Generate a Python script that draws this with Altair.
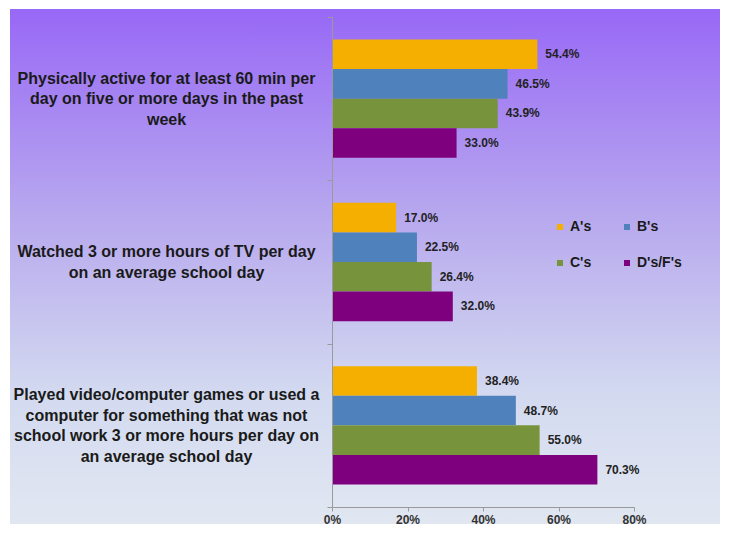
import altair as alt
import pandas as pd

questions = [
    "Physically active for at least 60 min per|day on five or more days in the past|week",
    "Watched 3 or more hours of TV per day|on an average school day",
    "Played video/computer games or used a|computer for something that was not|school work 3 or more hours per day on|an average school day",
]
grades = ["A's", "B's", "C's", "D's/F's"]
values_a = [54.4, 17.0, 38.4]
values_b = [46.5, 22.5, 48.7]
values_c = [43.9, 26.4, 55.0]
values_d = [33.0, 32.0, 70.3]
colors = ["#F4AF00", "#4F81BD", "#77933C", "#7F007F"]
x_ticks = [0, 20, 40, 60, 80]

series = [values_a, values_b, values_c, values_d]
rows = []
for qi, q in enumerate(questions):
    for gi, g in enumerate(grades):
        rows.append({"question": q, "grade": g, "value": series[gi][qi]})
df = pd.DataFrame(rows)

W, H = 302, 490
PAD_L, PAD_T, PAD_R, PAD_B = 324, 9, 87, 19
LINE_H = 20.5

bg = alt.Chart(pd.DataFrame({"a": [0]})).mark_rect(
    color=alt.LinearGradient(
        gradient="linear",
        stops=[
            alt.GradientStop(color="#9868F6", offset=0),
            alt.GradientStop(color="#B7A8EE", offset=0.4),
            alt.GradientStop(color="#D3DAF0", offset=0.75),
            alt.GradientStop(color="#E1E7F1", offset=1),
        ],
        x1=0, x2=0, y1=0, y2=1,
    )
).encode(
    x=alt.value(-PAD_L + 2), x2=alt.value(W + PAD_R - 1),
    y=alt.value(-PAD_T + 1), y2=alt.value(H + PAD_B - 2),
)

# shift multi-line labels so each block is centred on its band
offset_cond = {
    "condition": [
        {"test": "length(split(datum.value, '|')) == 3", "value": -LINE_H},
        {"test": "length(split(datum.value, '|')) == 4", "value": -1.5 * LINE_H},
    ],
    "value": -0.5 * LINE_H,
}

y_enc = alt.Y(
    "question:N",
    sort=questions,
    scale=alt.Scale(paddingInner=0, paddingOuter=0),
    axis=alt.Axis(
        title=None,
        zindex=1,
        labelExpr="split(datum.label, '|')",
        labelAlign="center",
        labelBaseline="middle",
        labelPadding=161,
        labelOffset=offset_cond,
        tickSize=5,
        tickBand="extent",
        labelFont="Liberation Sans",
        labelFontSize=16,
        labelFontWeight="bold",
        labelColor="#1a1a1a",
        labelLineHeight=LINE_H,
        labelLimit=500,
        domainColor="#9a9a9a",
        tickColor="#9a9a9a",
    ),
)
yoff = alt.YOffset("grade:N", sort=grades, scale=alt.Scale(paddingInner=0, paddingOuter=0.76))
x_enc = alt.X(
    "value:Q",
    scale=alt.Scale(domain=[0, 80]),
    axis=alt.Axis(
        title=None,
        zindex=1,
        values=x_ticks,
        labelExpr="datum.value + '%'",
        labelFlush=False,
        labelAlign="center",
        grid=False,
        tickSize=4,
        labelPadding=3,
        labelFont="Liberation Sans",
        labelFontSize=12,
        labelFontWeight="bold",
        labelColor="#333333",
        domainColor="#9a9a9a",
        tickColor="#9a9a9a",
    ),
)

bars = alt.Chart(df).mark_bar().encode(
    x=x_enc,
    y=y_enc,
    yOffset=yoff,
    color=alt.Color(
        "grade:N",
        sort=grades,
        scale=alt.Scale(domain=grades, range=colors),
        legend=alt.Legend(
            title=None,
            orient="none",
            direction="horizontal",
            legendX=221,
            legendY=203,
            columns=2,
            columnPadding=28,
            rowPadding=22,
            symbolType="square",
            symbolSize=36,
            symbolStrokeWidth=0,
            labelOffset=3,
            labelFont="Liberation Sans",
            labelFontSize=14,
            labelFontWeight="bold",
            labelColor="#1a1a1a",
            padding=0,
        ),
    ),
)

labels = alt.Chart(df).transform_calculate(
    txt="format(datum.value, '.1f') + '%'"
).mark_text(
    align="left", baseline="middle", dx=8,
    font="Liberation Sans", fontSize=12, fontWeight="bold", color="#222222",
).encode(
    x=alt.X("value:Q"),
    y=alt.Y("question:N", sort=questions),
    yOffset=alt.YOffset("grade:N", sort=grades),
    text="txt:N",
)

chart = alt.layer(bg, bars, labels).properties(
    width=W, height=H,
    autosize=alt.AutoSizeParams(type="none"),
    padding={"left": PAD_L, "top": PAD_T, "right": PAD_R, "bottom": PAD_B},
    background="white",
).configure_view(stroke=None)

chart.save("out.html", embed_options={"renderer": "svg", "actions": False})
